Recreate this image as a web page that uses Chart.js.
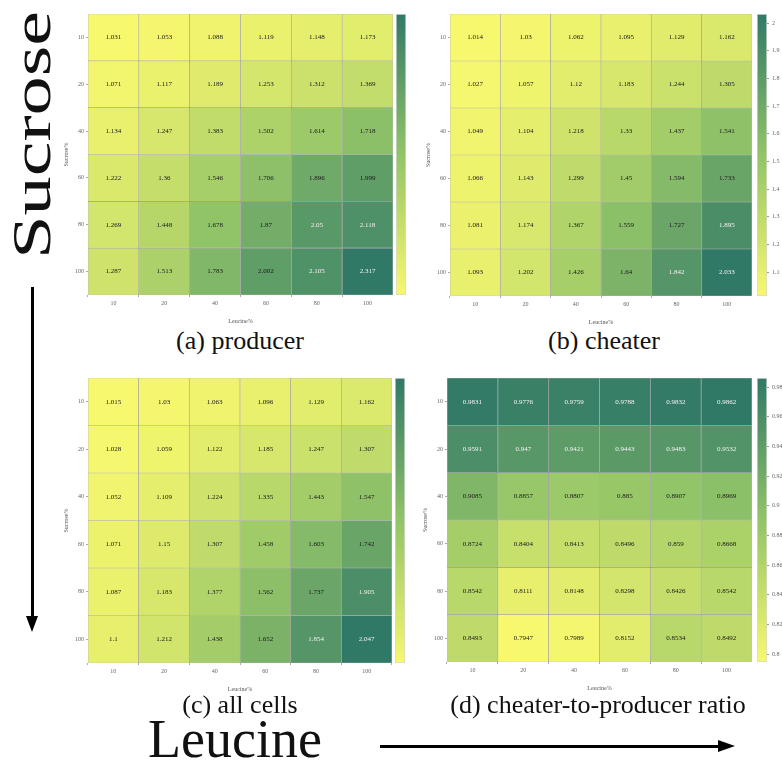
<!DOCTYPE html>
<html>
<head>
<meta charset="utf-8">
<script src="https://cdn.jsdelivr.net/npm/chart.js@4.4.1/dist/chart.umd.min.js"></script>
<style>
  body { margin: 0; background: #fff; width: 782px; height: 766px; overflow: hidden; position: relative; font-family: "Liberation Serif", serif; color: #111; }
  canvas { position: absolute; }
  .caption { position: absolute; font-size: 26px; line-height: 1; white-space: nowrap; transform: translateX(-50%); }
  .big { position: absolute; font-size: 54px; line-height: 1; white-space: nowrap; }
  .line { position: absolute; background: #000; }
  .head { position: absolute; width: 0; height: 0; }
</style>
</head>
<body>

<div class="big" style="left:32px; top:135px; transform: translate(-50%,-50%) rotate(-90deg) scaleX(1.45);">Sucrose</div>
<div class="big" style="left:148px; top:712px;">Leucine</div>

<div class="line" style="left:31px; top:287px; width:3px; height:332px;"></div>
<div class="head" style="left:26px; top:616px; border-left:6.5px solid transparent; border-right:6.5px solid transparent; border-top:16px solid #000;"></div>
<div class="line" style="left:380px; top:745px; width:340px; height:3px;"></div>
<div class="head" style="left:718px; top:740px; border-top:6.5px solid transparent; border-bottom:6.5px solid transparent; border-left:17px solid #000;"></div>

<canvas id="heat-a"></canvas><canvas id="bar-a"></canvas>
<canvas id="heat-b"></canvas><canvas id="bar-b"></canvas>
<canvas id="heat-c"></canvas><canvas id="bar-c"></canvas>
<canvas id="heat-d"></canvas><canvas id="bar-d"></canvas>

<div class="caption" style="left:240px; top:328px;">(a) producer</div>
<div class="caption" style="left:604px; top:328px;">(b) cheater</div>
<div class="caption" style="left:240px; top:692px;">(c) all cells</div>
<div class="caption" style="left:598px; top:692px;">(d) cheater-to-producer ratio</div>

<script>
// axes
const leucine = ["10", "20", "40", "60", "80", "100"];
const sucrose = ["10", "20", "40", "60", "80", "100"];

// rows = sucrose %, columns = leucine %
const producer = [
    [1.031, 1.053, 1.088, 1.119, 1.148, 1.173],
    [1.071, 1.117, 1.189, 1.253, 1.312, 1.369],
    [1.134, 1.247, 1.383, 1.502, 1.614, 1.718],
    [1.222, 1.36, 1.546, 1.706, 1.896, 1.999],
    [1.269, 1.448, 1.678, 1.87, 2.05, 2.118],
    [1.287, 1.513, 1.783, 2.002, 2.105, 2.317]
];
const cheater = [
    [1.014, 1.03, 1.062, 1.095, 1.129, 1.162],
    [1.027, 1.057, 1.12, 1.183, 1.244, 1.305],
    [1.049, 1.104, 1.218, 1.33, 1.437, 1.541],
    [1.066, 1.143, 1.299, 1.45, 1.594, 1.733],
    [1.081, 1.174, 1.367, 1.559, 1.727, 1.895],
    [1.093, 1.202, 1.426, 1.64, 1.842, 2.033]
];
const allCells = [
    [1.015, 1.03, 1.063, 1.096, 1.129, 1.162],
    [1.028, 1.059, 1.122, 1.185, 1.247, 1.307],
    [1.052, 1.109, 1.224, 1.335, 1.443, 1.547],
    [1.071, 1.15, 1.307, 1.458, 1.603, 1.742],
    [1.087, 1.183, 1.377, 1.562, 1.737, 1.905],
    [1.1, 1.212, 1.438, 1.652, 1.854, 2.047]
];
const ratio = [
    [0.9831, 0.9776, 0.9759, 0.9788, 0.9832, 0.9862],
    [0.9591, 0.947, 0.9421, 0.9443, 0.9483, 0.9532],
    [0.9085, 0.8857, 0.8807, 0.885, 0.8907, 0.8969],
    [0.8724, 0.8404, 0.8413, 0.8496, 0.859, 0.8668],
    [0.8542, 0.8111, 0.8148, 0.8298, 0.8426, 0.8542],
    [0.8493, 0.7947, 0.7989, 0.8152, 0.8534, 0.8492]
];

// colour bar ticks
const cheaterTicks = [1.1, 1.2, 1.3, 1.4, 1.5, 1.6, 1.7, 1.8, 1.9, 2];
const ratioTicks = [0.8, 0.82, 0.84, 0.86, 0.88, 0.9, 0.92, 0.94, 0.96, 0.98];

// yellow -> green, like summer_r
const STOPS = [
    [0, [248, 248, 110]],
    [0.5, [146, 196, 104]],
    [1, [48, 121, 103]]
];

function colour(t) {
    t = Math.max(0, Math.min(1, t));
    let i = t <= 0.5 ? 0 : 1;
    const [t0, a] = STOPS[i], [t1, b] = STOPS[i + 1];
    const f = (t - t0) / (t1 - t0);
    const c = a.map((x, k) => Math.round(x + (b[k] - x) * f));
    return `rgb(${c[0]},${c[1]},${c[2]})`;
}

const TICK_FONT = { family: "Liberation Serif", size: 6 };

// writes each value into its cell
const cellLabels = {
    id: "cellLabels",
    afterDatasetsDraw(chart, args, opts) {
        const ctx = chart.ctx;
        ctx.save();
        ctx.font = '7px "Liberation Serif"';
        ctx.textAlign = "center";
        ctx.textBaseline = "middle";
        chart.data.datasets.forEach((ds, r) => {
            chart.getDatasetMeta(r).data.forEach((bar, c) => {
                const v = ds.values[c];
                const t = (v - opts.lo) / (opts.hi - opts.lo);
                ctx.fillStyle = t > 0.758 ? "#f2f2f2" : "#1a1a1a";
                ctx.fillText(String(v), bar.x, (bar.y + bar.base) / 2);
            });
        });
        ctx.restore();
    }
};

function place(canvas, left, top, w, h) {
    canvas.width = w;
    canvas.height = h;
    canvas.style.left = left + "px";
    canvas.style.top = top + "px";
    canvas.style.width = w + "px";
    canvas.style.height = h + "px";
}

function heatmap(id, values, grid) {
    const [gl, gt, gr, gb] = grid;
    const canvas = document.getElementById(id);
    place(canvas, gl - 25, gt - 6, gr - gl + 25, gb - gt + 6 + 30);

    const flat = values.flat();
    const lo = Math.min(...flat), hi = Math.max(...flat);

    const datasets = sucrose.map((s, r) => ({
        label: s,
        data: leucine.map(() => [r, r + 1]),
        values: values[r],
        backgroundColor: values[r].map(v => colour((v - lo) / (hi - lo))),
        borderColor: "rgba(70,70,70,0.35)",
        borderWidth: 0.7,
        borderSkipped: false,
        barPercentage: 1,
        categoryPercentage: 1,
        grouped: false
    }));

    new Chart(canvas, {
        type: "bar",
        data: { labels: leucine, datasets },
        plugins: [cellLabels],
        options: {
            responsive: false,
            animation: false,
            layout: { padding: { top: 6, right: 0, bottom: 0, left: 0 } },
            plugins: {
                legend: { display: false },
                tooltip: { enabled: false },
                cellLabels: { lo, hi }
            },
            scales: {
                x: {
                    afterFit: s => { s.height = 30; },
                    ticks: { font: TICK_FONT, color: "#666", padding: 3, maxRotation: 0 },
                    grid: { drawOnChartArea: false, tickLength: 2, color: "#aaa" },
                    border: { display: false },
                    title: { display: true, text: "Leucine%", font: TICK_FONT, color: "#555", padding: { top: 0, bottom: 0 } }
                },
                y: {
                    min: 0,
                    max: sucrose.length,
                    reverse: true,
                    afterFit: s => { s.width = 25; },
                    afterBuildTicks: s => { s.ticks = sucrose.map((_, i) => ({ value: i + 0.5 })); },
                    ticks: { font: TICK_FONT, color: "#666", padding: 2, callback: v => sucrose[Math.floor(v)] },
                    grid: { drawOnChartArea: false, tickLength: 2, color: "#aaa" },
                    border: { display: false },
                    title: { display: true, text: "Sucrose%", font: TICK_FONT, color: "#555", padding: 0 }
                }
            }
        }
    });
    return { lo, hi };
}

function colorbar(id, range, ticks, grid, gap, showTicks) {
    const [gl, gt, gr, gb] = grid;
    const canvas = document.getElementById(id);
    const left = gr + gap;
    const width = showTicks ? 782 - left : 10;
    place(canvas, left, gt, width, gb - gt);

    new Chart(canvas, {
        type: "bar",
        data: {
            labels: [""],
            datasets: [{
                data: [[range.lo, range.hi]],
                backgroundColor: ctx => {
                    const area = ctx.chart.chartArea;
                    if (!area) return colour(0.5);
                    const g = ctx.chart.ctx.createLinearGradient(0, area.bottom, 0, area.top);
                    for (let i = 0; i <= 10; i++) g.addColorStop(i / 10, colour(i / 10));
                    return g;
                },
                borderColor: "#d8d8d8",
                borderWidth: 1,
                borderSkipped: false,
                barPercentage: 1,
                categoryPercentage: 1
            }]
        },
        options: {
            responsive: false,
            animation: false,
            layout: { padding: 0 },
            plugins: { legend: { display: false }, tooltip: { enabled: false } },
            scales: {
                x: { display: false },
                y: {
                    display: showTicks,
                    position: "right",
                    min: range.lo,
                    max: range.hi,
                    afterFit: s => {
                        s.width = width - 10;
                        s.paddingTop = 0;
                        s.paddingBottom = 0;
                    },
                    afterBuildTicks: s => { s.ticks = ticks.map(v => ({ value: v })); },
                    ticks: { font: TICK_FONT, color: "#666", padding: 3, callback: v => String(v) },
                    grid: { drawOnChartArea: false, tickLength: 2, color: "#999" },
                    border: { display: false }
                }
            }
        }
    });
}

const gridA = [88, 14, 393, 295];
const gridB = [450, 14, 752, 296];
const gridC = [88, 378, 392, 663];
const gridD = [447, 378, 752, 662];

colorbar("bar-a", heatmap("heat-a", producer, gridA), [], gridA, 3, false);
colorbar("bar-b", heatmap("heat-b", cheater, gridB), cheaterTicks, gridB, 5, true);
colorbar("bar-c", heatmap("heat-c", allCells, gridC), [], gridC, 3, false);
colorbar("bar-d", heatmap("heat-d", ratio, gridD), ratioTicks, gridD, 5, true);
</script>
</body>
</html>
